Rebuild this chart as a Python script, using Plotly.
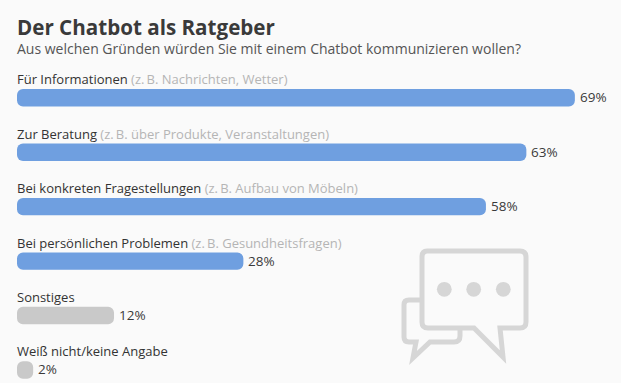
import plotly.graph_objects as go

W, H = 621, 383

# ---- data ----
labels = ["Für Informationen", "Zur Beratung", "Bei konkreten Fragestellungen",
          "Bei persönlichen Problemen", "Sonstiges", "Weiß nicht/keine Angabe"]
notes = ["(z.\u2009B. Nachrichten, Wetter)", "(z.\u2009B. über Produkte, Veranstaltungen)",
         "(z.\u2009B. Aufbau von Möbeln)", "(z.\u2009B. Gesundheitsfragen)", "", ""]
values = [69, 63, 58, 28, 12, 2]
colors = ["#6f9fe0", "#6f9fe0", "#6f9fe0", "#6f9fe0", "#c9c9c9", "#c9c9c9"]
title = "Der Chatbot als Ratgeber"
subtitle = "Aus welchen Gründen würden Sie mit einem Chatbot kommunizieren wollen?"

FONT = "Open Sans"
BG = "#fafafa"
ICON = "#d6d6d6"

fig = go.Figure()
# an explicit base makes Plotly round both ends of each bar
fig.add_bar(x=values, base=[0] * len(values), y=labels, orientation="h",
            marker=dict(color=colors, line=dict(width=0)), hoverinfo="skip")


def px(x):
    return x / W


def py(y):
    return 1 - y / H


def path(cmds):
    out = []
    for c in cmds:
        if c[0] == "Z":
            out.append("Z")
        else:
            nums = c[1:]
            pts = []
            for i in range(0, len(nums), 2):
                pts.append(f"{px(nums[i]):.5f},{py(nums[i + 1]):.5f}")
            out.append(c[0] + " " + " ".join(pts))
    return " ".join(out)


big = [("M", 427, 251), ("L", 520, 251), ("Q", 526, 251, 526, 257), ("L", 526, 322),
       ("Q", 526, 328, 520, 328), ("L", 500, 328), ("L", 503, 357), ("L", 474, 328),
       ("L", 428, 328), ("Q", 422, 328, 422, 322), ("L", 422, 257), ("Q", 422, 251, 427, 251), ("Z",)]
small = [("M", 422, 300), ("L", 409, 300), ("Q", 404, 300, 404, 305), ("L", 404, 337),
         ("Q", 404, 342, 409, 342), ("L", 416, 342), ("L", 413, 358), ("L", 430, 342),
         ("L", 454, 342), ("Q", 460, 342, 460, 336), ("L", 460, 329)]
shapes = [
    dict(type="path", xref="paper", yref="paper", path=path(small),
         line=dict(color=ICON, width=5), layer="below"),
    dict(type="path", xref="paper", yref="paper", path=path(big),
         line=dict(color=ICON, width=5), layer="below"),
]
for cx in (444.3, 473.7, 503.3):
    shapes.append(dict(type="circle", xref="paper", yref="paper",
                       x0=px(cx - 7.4), x1=px(cx + 7.4), y0=py(289.3 + 7.4), y1=py(289.3 - 7.4),
                       fillcolor=ICON, line=dict(width=0), layer="below"))

annotations = [
    dict(text=f"<b>{title}</b>", xref="paper", yref="paper", x=px(15), y=py(27), xanchor="left",
         yanchor="middle", showarrow=False, font=dict(family=FONT, size=20.6, color="#3a3a3a")),
    dict(text=subtitle, xref="paper", yref="paper", x=px(15), y=py(49), xanchor="left",
         yanchor="middle", showarrow=False, font=dict(family=FONT, size=14, color="#555555")),
]
for lab, note, v in zip(labels, notes, values):
    t = lab
    if note:
        t += f' <span style="color:#b5b5b5">{note}</span>'
    annotations.append(dict(text=t, xref="x", yref="y", x=0, y=lab, xanchor="left",
                            yanchor="middle", xshift=-2, yshift=18.5, showarrow=False,
                            font=dict(family=FONT, size=13, color="#333333")))
    annotations.append(dict(text=f"{v}%", xref="x", yref="y", x=v, y=lab, xanchor="left",
                            yanchor="middle", xshift=3, yshift=0.5, showarrow=False,
                            font=dict(family=FONT, size=13.5, color="#3a3a3a")))

fig.update_layout(
    width=W, height=H, autosize=False,
    margin=dict(l=0, r=0, t=0, b=0),
    paper_bgcolor=BG, plot_bgcolor="rgba(0,0,0,0)",
    barcornerradius=6, bargap=0.68, showlegend=False,
    xaxis=dict(domain=[px(17), 1], range=[0, (W - 17) / 8.085], visible=False, fixedrange=True),
    yaxis=dict(domain=[0, py(70.6)], range=[5.24, -0.5], type="category", visible=False, fixedrange=True),
    shapes=shapes, annotations=annotations,
)

fig.write_html("out.html", config={"displayModeBar": False},
               post_script="document.body.style.margin='0';document.body.style.background='#fafafa';")
